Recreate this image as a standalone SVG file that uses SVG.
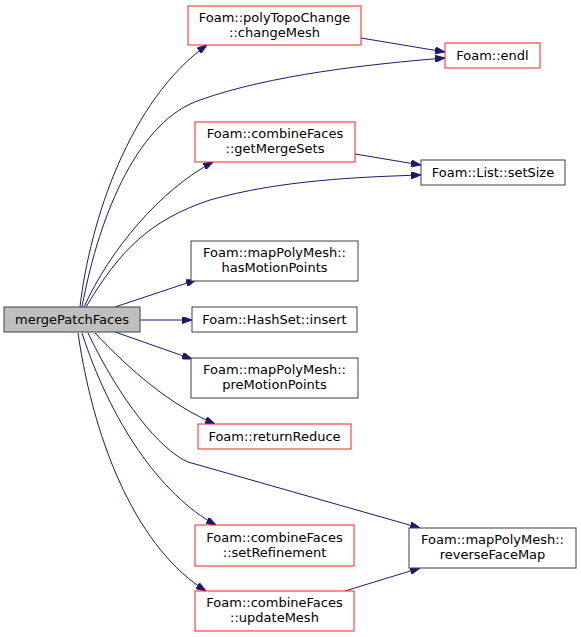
<svg xmlns="http://www.w3.org/2000/svg" width="581" height="637" viewBox="0 0 581 637">
<style>
.n rect{fill:#fff;stroke:#404040;stroke-width:1}
.r rect{stroke:#ff2020}
.m rect{fill:#bfbfbf}
text{font-family:"DejaVu Sans",sans-serif;font-size:13px;fill:#000;text-anchor:middle}
.e path{fill:none;stroke:#191970;stroke-width:1}
</style>
<defs>
<marker id="a" viewBox="0 0 10 7" refX="10" refY="3.5" markerWidth="10" markerHeight="7" markerUnits="userSpaceOnUse" orient="auto">
<path d="M0,0 L10,3.5 L0,7 Z" fill="#191970" stroke="#191970"/>
</marker>
</defs>
<rect width="581" height="637" fill="#fff"/>
<g class="e">
<path d="M80,307 C90,220 130,100 207,45" marker-end="url(#a)"/>
<path d="M82,307 C100,210 140,120 200,100 C270,75 370,64 445,58" marker-end="url(#a)"/>
<path d="M361,38 L445,52" marker-end="url(#a)"/>
<path d="M84,307 C110,250 160,190 213,162" marker-end="url(#a)"/>
<path d="M86,307 C120,250 150,220 210,200 C280,180 360,177 421,175" marker-end="url(#a)"/>
<path d="M355,154 L421,165" marker-end="url(#a)"/>
<path d="M115,307 L196,280" marker-end="url(#a)"/>
<path d="M140,320 L192,320" marker-end="url(#a)"/>
<path d="M115,332 L192,359" marker-end="url(#a)"/>
<path d="M95,333 C130,370 170,405 215,424" marker-end="url(#a)"/>
<path d="M88,333 C120,400 160,450 188,462 L420,528" marker-end="url(#a)"/>
<path d="M82,333 C110,420 160,495 216,525" marker-end="url(#a)"/>
<path d="M78,333 C95,450 140,550 206,591" marker-end="url(#a)"/>
<path d="M345,591 L420,568" marker-end="url(#a)"/>
</g>
<g id="mergePatchFaces" class="n m"><rect x="4" y="307" width="136" height="25"/><text x="72" y="324">mergePatchFaces</text></g>
<g id="changeMesh" class="n r"><rect x="188" y="6" width="173" height="39"/><text x="274.5" y="22">Foam::polyTopoChange</text><text x="274.5" y="37">::changeMesh</text></g>
<g id="endl" class="n r"><rect x="445" y="43" width="95" height="25"/><text x="492.5" y="60">Foam::endl</text></g>
<g id="setSize" class="n"><rect x="421" y="160" width="144" height="25"/><text x="493" y="177">Foam::List::setSize</text></g>
<g id="getMergeSets" class="n r"><rect x="195" y="122" width="160" height="40"/><text x="275" y="138">Foam::combineFaces</text><text x="275" y="153">::getMergeSets</text></g>
<g id="hasMotionPoints" class="n"><rect x="191" y="241" width="167" height="40"/><text x="274.5" y="257">Foam::mapPolyMesh::</text><text x="274.5" y="272">hasMotionPoints</text></g>
<g id="insert" class="n"><rect x="192" y="307" width="165" height="25"/><text x="274.5" y="324">Foam::HashSet::insert</text></g>
<g id="preMotionPoints" class="n"><rect x="191" y="358" width="167" height="40"/><text x="274.5" y="374">Foam::mapPolyMesh::</text><text x="274.5" y="389">preMotionPoints</text></g>
<g id="returnReduce" class="n r"><rect x="198" y="424" width="153" height="25"/><text x="274.5" y="441">Foam::returnReduce</text></g>
<g id="setRefinement" class="n r"><rect x="195" y="525" width="159" height="41"/><text x="274.5" y="542">Foam::combineFaces</text><text x="274.5" y="557">::setRefinement</text></g>
<g id="updateMesh" class="n r"><rect x="195" y="591" width="159" height="40"/><text x="274.5" y="607">Foam::combineFaces</text><text x="274.5" y="622">::updateMesh</text></g>
<g id="reverseFaceMap" class="n"><rect x="409" y="528" width="167" height="40"/><text x="492.5" y="544">Foam::mapPolyMesh::</text><text x="492.5" y="559">reverseFaceMap</text></g>
</svg>
